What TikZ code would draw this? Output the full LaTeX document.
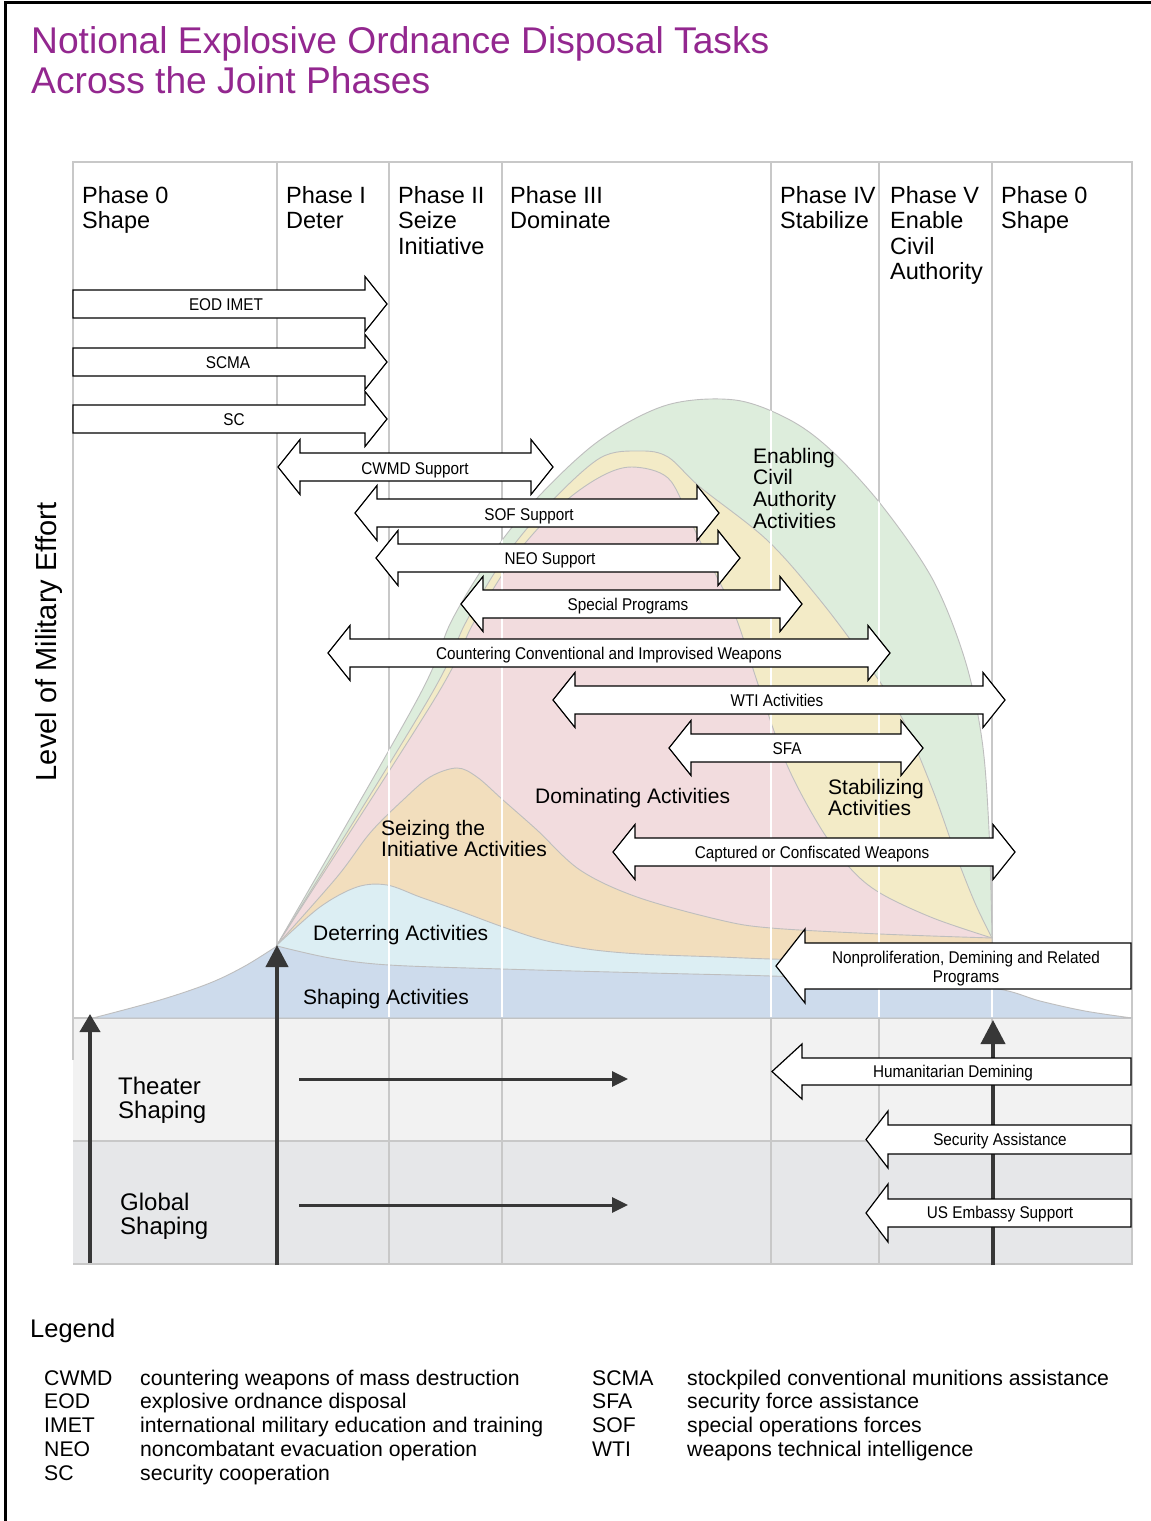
\documentclass[tikz,border=0pt]{standalone}
\usepackage{fontspec}
\setmainfont{Liberation Sans}
\newfontfamily\narrowsans[FakeStretch=0.9]{Liberation Sans}
\usetikzlibrary{arrows.meta}

\definecolor{titlepurple}{RGB}{147,39,143}
\definecolor{gridgrey}{RGB}{200,200,200}
\definecolor{edgegrey}{RGB}{190,190,190}
\definecolor{enablefill}{RGB}{221,237,220}
\definecolor{stabfill}{RGB}{243,235,199}
\definecolor{domfill}{RGB}{242,220,222}
\definecolor{seizefill}{RGB}{242,222,189}
\definecolor{deterfill}{RGB}{220,238,243}
\definecolor{shapefill}{RGB}{205,219,236}
\definecolor{theaterfill}{RGB}{242,242,242}
\definecolor{globalfill}{RGB}{230,231,233}
\definecolor{effortdark}{RGB}{55,55,55}

% left-aligned and centred line stacks, aligned on the first baseline
\newcommand\lstack[1]{\begin{tabular}[t]{@{}l@{}}#1\end{tabular}}
\newcommand\cstack[1]{\begin{tabular}[t]{@{}c@{}}#1\end{tabular}}

% block arrow pointing right: left x, tip x, centre y
\newcommand\rblock[3]{%
  \draw[blockarrow] (#1,#3-14) -- (#2-22,#3-14) -- (#2-22,#3-27.5) -- (#2,#3)
    -- (#2-22,#3+27.5) -- (#2-22,#3+14) -- (#1,#3+14) -- cycle;}
% double-headed block arrow: left tip, right tip, centre y
\newcommand\dblock[3]{%
  \draw[blockarrow] (#1,#3) -- (#1+22,#3-27.5) -- (#1+22,#3-14) -- (#2-22,#3-14)
    -- (#2-22,#3-27.5) -- (#2,#3) -- (#2-22,#3+27.5) -- (#2-22,#3+14)
    -- (#1+22,#3+14) -- (#1+22,#3+27.5) -- cycle;}
% block arrow pointing left: tip x, right x, centre y, half body, half head, head length
\newcommand\lblock[6]{%
  \draw[blockarrow] (#1,#3) -- (#1+#6,#3-#5) -- (#1+#6,#3-#4) -- (#2,#3-#4)
    -- (#2,#3+#4) -- (#1+#6,#3+#4) -- (#1+#6,#3+#5) -- cycle;}

% upper outlines of the effort bands
\newcommand\enabletop{(277,945) (417,700) (452,620) (495,550) (540,495) (600,440) (667,405) (735,400) (790,420) (833,452) (883,507) (933,580) (965,660) (982,740) (989,830) (992,938)}

\begin{document}
\begin{tikzpicture}[x=1pt,y=-1pt,
  blockarrow/.style={draw=black,fill=white,line width=1.2pt,line join=miter},
  tag/.style={anchor=base,inner sep=0pt,outer sep=0pt,font=\narrowsans\fontsize{17}{19}\selectfont},
  phase/.style={anchor=base west,inner sep=0pt,font=\fontsize{23.5}{25.5}\selectfont},
  region/.style={anchor=base west,inner sep=0pt,font=\fontsize{21}{21.7}\selectfont},
  rowname/.style={anchor=base west,inner sep=0pt,font=\fontsize{24}{24}\selectfont},
  legendtext/.style={anchor=base west,inner sep=0pt,font=\fontsize{21.2}{23.75}\selectfont},
  band/.style={draw=edgegrey,line width=0.9pt},
  gridline/.style={draw=gridgrey,line width=2.4pt},
  whiteline/.style={draw=white,line width=2.4pt},
  effort/.style={draw=effortdark,line width=4pt},
  flow/.style={draw=effortdark,line width=3pt,-{Triangle[length=16pt,width=15pt]}}]

\useasboundingbox (0,0) rectangle (1151,1521);
\fill[white] (0,0) rectangle (1151,1521);

% frame
\draw[black,line width=3pt] (5,2.5) -- (1151,2.5);
\draw[black,line width=3pt] (5,1) -- (5,1521);

% title
\node[anchor=base west,inner sep=0pt,text=titlepurple,font=\fontsize{37.2}{40}\selectfont]
  (title) at (31,53) {\lstack{Notional Explosive Ordnance Disposal Tasks\\Across the Joint Phases}};

% lower rows
\fill[theaterfill] (73,1018) rectangle (1132,1141);
\fill[globalfill] (73,1141) rectangle (1132,1264);

% grid
\draw[gridline] (73,162) -- (1132,162);
\draw[gridline] (73,161) -- (73,1060);
\foreach \gx in {277,389,502,771,879,992,1132}
  \draw[gridline] (\gx,161) -- (\gx,1265);
\draw[gridline] (73,1018) -- (1132,1018);
\draw[gridline] (73,1141) -- (1132,1141);
\draw[gridline] (73,1264) -- (1132,1264);

% effort bands
\filldraw[band,fill=enablefill] plot[smooth,tension=0.55] coordinates {\enabletop}
  -- (992,1018) -- (277,1018) -- cycle;
\filldraw[band,fill=stabfill] plot[smooth,tension=0.55] coordinates {(277,945) (428,700) (466,622) (505,557) (548,505) (600,458) (640,451) (668,457) (700,487) (767,540) (820,600) (867,663) (902,718) (932,788) (956,855) (975,903) (992,938)}
  -- (992,1018) -- (277,1018) -- cycle;
\filldraw[band,fill=domfill] plot[smooth,tension=0.55] coordinates {(277,945) (434,700) (474,622) (515,556) (560,506) (600,477) (632,467) (668,478) (690,520) (712,567) (735,615) (760,690) (787,765) (820,827) (850,868) (880,893) (933,918) (992,938)}
  -- (992,1018) -- (277,1018) -- cycle;
\filldraw[band,fill=seizefill] plot[smooth,tension=0.55] coordinates {(277,945) (337,877) (370,833) (403,800) (430,777) (457,768) (477,777) (503,800) (537,830) (580,870) (637,897) (720,920) (771,928) (880,934) (992,938)}
  -- (992,1018) -- (277,1018) -- cycle;
\filldraw[band,fill=deterfill] plot[smooth,tension=0.55] coordinates {(277,945) (320,907) (357,887) (387,885) (420,897) (457,910) (503,927) (543,940) (587,949) (640,954) (720,957) (771,959) (880,962) (992,966)}
  -- (992,1018) -- (277,1018) -- cycle;
\filldraw[band,fill=shapefill] plot[smooth,tension=0.55] coordinates {(93,1018) (160,1000) (210,983) (245,966) (277,946)}
  -- plot[smooth,tension=0.55] coordinates {(277,946) (330,958) (389,965) (502,969) (650,973) (771,976) (880,980) (992,988) (1040,1001) (1085,1011) (1132,1018)}
  -- cycle;

% phase dividers show white across the bands
\begin{scope}
  \clip plot[smooth,tension=0.55] coordinates {\enabletop} -- (992,1018) -- (277,1018) -- cycle;
  \foreach \gx in {389,502,771,879}
    \draw[whiteline] (\gx,162) -- (\gx,1017);
\end{scope}
\begin{scope}
  \clip plot[smooth,tension=0.55] coordinates {(93,1018) (160,1000) (210,983) (245,966) (277,946)}
  -- plot[smooth,tension=0.55] coordinates {(277,946) (330,958) (389,965) (502,969) (650,973) (771,976) (880,980) (992,988) (1040,1001) (1085,1011) (1132,1018)}
  -- cycle;
  \foreach \gx in {389,502,771,879,992}
    \draw[whiteline] (\gx,900) -- (\gx,1017);
\end{scope}

% effort arrows
\coordinate (e0b) at (90,1263);  \coordinate (e0t) at (90,1014);
\coordinate (e1b) at (277,1265); \coordinate (e1t) at (277,945);
\coordinate (e2b) at (993,1265); \coordinate (e2t) at (993,1020);
\draw[effort,-{Triangle[length=18pt,width=20pt]}] (e0b) -- (e0t);
\draw[effort,-{Triangle[length=22pt,width=22pt]}] (e1b) -- (e1t);
\draw[effort,-{Triangle[length=24pt,width=24pt]}] (e2b) -- (e2t);
\coordinate (t0) at (299,1079); \coordinate (t1) at (628,1079);
\coordinate (g0) at (299,1205); \coordinate (g1) at (628,1205);
\draw[flow] (t0) -- (t1);
\draw[flow] (g0) -- (g1);

% tasks
\rblock{73}{387}{304}
\node[tag] (eodimet) at (226,310) {EOD IMET};
\rblock{73}{387}{362}
\node[tag] (scma) at (228,368) {SCMA};
\rblock{73}{387}{419}
\node[tag] (sc) at (234,425) {SC};
\dblock{278}{553}{467}
\node[tag] (cwmd) at (415,474) {CWMD Support};
\dblock{355}{719}{513}
\node[tag] (sof) at (529,520) {SOF Support};
\dblock{376}{740}{558}
\node[tag] (neo) at (550,564) {NEO Support};
\dblock{461}{802}{604}
\node[tag] (special) at (628,610) {Special Programs};
\dblock{328}{890}{653}
\node[tag] (counter) at (609,659) {Countering Conventional and Improvised Weapons};
\dblock{553}{1005}{700}
\node[tag] (wti) at (777,706) {WTI Activities};
\dblock{669}{923}{748}
\node[tag] (sfa) at (787,754) {SFA};
\dblock{613}{1015}{852}
\node[tag] (captured) at (812,858) {Captured or Confiscated Weapons};
\lblock{776}{1131}{966}{23}{37}{29}
\node[tag] (nonpro) at (966,963) {\cstack{Nonproliferation, Demining and Related\\Programs}};
\lblock{772}{1131}{1071.5}{13.5}{27.5}{30}
\node[tag] (demining) at (953,1077) {Humanitarian Demining};
\lblock{866}{1131}{1139.5}{14.5}{28.5}{22}
\node[tag] (secassist) at (1000,1145) {Security Assistance};
\lblock{866}{1131}{1213}{14}{29}{22}
\node[tag] (embassy) at (1000,1218) {US Embassy Support};

% phase headings
\node[phase] (ph0) at (82,203) {\lstack{Phase 0\\Shape}};
\node[phase] (ph1) at (286,203) {\lstack{Phase I\\Deter}};
\node[phase] (ph2) at (398,203) {\lstack{Phase II\\Seize\\Initiative}};
\node[phase] (ph3) at (510,203) {\lstack{Phase III\\Dominate}};
\node[phase] (ph4) at (780,203) {\lstack{Phase IV\\Stabilize}};
\node[phase] (ph5) at (890,203) {\lstack{Phase V\\Enable\\Civil\\Authority}};
\node[phase] (ph6) at (1001,203) {\lstack{Phase 0\\Shape}};

% band names
\node[region] (enabling) at (753,463) {\lstack{Enabling\\Civil\\Authority\\Activities}};
\node[region] (stabilizing) at (828,794) {\lstack{Stabilizing\\Activities}};
\node[region] (dominating) at (535,803) {Dominating Activities};
\node[region] (seizing) at (381,835) {\lstack{Seizing the\\Initiative Activities}};
\node[region] (deterring) at (313,940) {Deterring Activities};
\node[region] (shaping) at (303,1004) {Shaping Activities};
\node[rowname] (theater) at (118,1094) {\lstack{Theater\\Shaping}};
\node[rowname] (global) at (120,1210) {\lstack{Global\\Shaping}};

% axis title
\node[anchor=base,inner sep=0pt,rotate=90,font=\fontsize{29}{31}\selectfont] (axis) at (56,642) {Level of Military Effort};

% legend
\node[anchor=base west,inner sep=0pt,font=\fontsize{25.5}{28}\selectfont] (legend) at (30,1337) {Legend};
\node[legendtext] (abbrA) at (44,1385) {\lstack{CWMD\\EOD\\IMET\\NEO\\SC}};
\node[legendtext] (defA) at (140,1385) {\lstack{countering weapons of mass destruction\\explosive ordnance disposal\\international military education and training\\noncombatant evacuation operation\\security cooperation}};
\node[legendtext] (abbrB) at (592,1385) {\lstack{SCMA\\SFA\\SOF\\WTI}};
\node[legendtext] (defB) at (687,1385) {\lstack{stockpiled conventional munitions assistance\\security force assistance\\special operations forces\\weapons technical intelligence}};

\end{tikzpicture}
\end{document}
